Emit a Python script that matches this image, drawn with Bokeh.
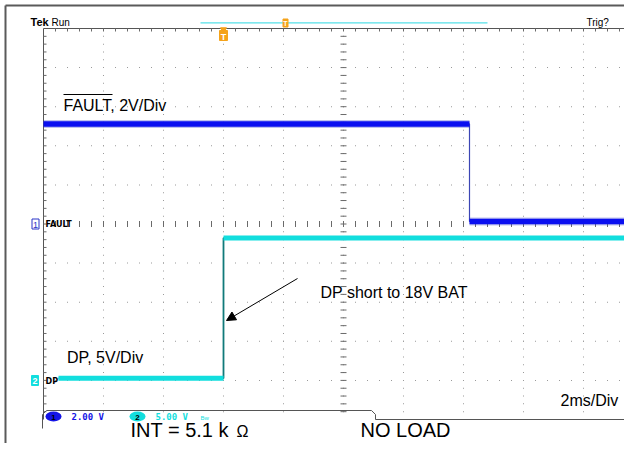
import numpy as np
from bokeh.plotting import figure
from bokeh.models import Range1d, Label, Arrow, NormalHead
from bokeh.embed import file_html
from bokeh.resources import INLINE

# ---------------- data ----------------
fault_time_ms = [-6.0, 8.2, 8.2, 14.0]      # channel 1 (FAULT)
fault_volts = [5.12, 5.12, 0.13, 0.13]
dp_time_ms = [-5.5, 0.0, 0.0, 14.0]          # channel 2 (DP)
dp_volts = [0.26, 0.26, 18.2, 18.2]
ch1_volts_per_div = 2.0
ch2_volts_per_div = 5.0
ms_per_div = 2.0
ch2_ground_div = -4.0                        # DP ground marker, divisions below centre
trigger_div_from_left = 3                    # trigger point (t = 0)

# ---------------- screen geometry (pixels) ----------------
X0, DIV_W = 43.0, 60.0
Y0, DIV_H = 28.0, 39.1
YC = Y0 + 5 * DIV_H
X_TRIG = X0 + trigger_div_from_left * DIV_W
PX_L, PX_R, PY_T, PY_B = 0.0, 624.0, 0.0, 443.0

def t_at(px):
    return (px - X_TRIG) / DIV_W * ms_per_div

def v1_at(py):
    return (YC - py) / DIV_H * ch1_volts_per_div

def v2_at(py):
    return ((YC - py) / DIV_H - ch2_ground_div) * ch2_volts_per_div

p = figure(width=624, height=443,
           x_range=Range1d(PX_L, PX_R), y_range=Range1d(PY_B, PY_T),
           output_backend="svg", toolbar_location=None,
           x_axis_location=None, y_axis_location=None,
           min_border=0, min_border_left=0, min_border_right=0,
           min_border_top=0, min_border_bottom=0,
           background_fill_color="white", border_fill_color="white",
           outline_line_color=None)
p.grid.visible = False
p.extra_x_ranges = {"ms": Range1d(t_at(PX_L), t_at(PX_R))}
p.extra_y_ranges = {"ch1": Range1d(v1_at(PY_B), v1_at(PY_T)),
                    "ch2": Range1d(v2_at(PY_B), v2_at(PY_T))}

# ---------------- page frame ----------------
p.line([5, PX_R], [5, 5], line_color="#5a5a5a", line_width=2)
p.line([5, 5], [5, PY_B], line_color="#5a5a5a", line_width=2)

# ---------------- graticule ----------------
minor_h = DIV_H / 5
minor_w = DIV_W / 5
gx, gy = [], []
for k in range(1, 10):
    x = X0 + k * DIV_W
    for j in range(1, 50):
        gx.append(x); gy.append(Y0 + j * minor_h)
for m in range(1, 10):
    y = Y0 + m * DIV_H
    for i in range(1, 50):
        gx.append(X0 + i * minor_w); gy.append(y)
p.rect(gx, gy, width=1, height=1, width_units="screen", height_units="screen",
       fill_color="#9a9a9a", line_color=None)

GR = "#555555"
p.line([X0, X0], [Y0, Y0 + 10 * DIV_H], line_color=GR, line_width=1)
p.line([X0, 640], [Y0, Y0], line_color=GR, line_width=1)
p.line([375, 640], [Y0 + 10 * DIV_H, Y0 + 10 * DIV_H], line_color=GR, line_width=1)

tk_x0, tk_x1, tk_y0, tk_y1 = [], [], [], []
for j in range(1, 50):
    y = Y0 + j * minor_h
    tk_x0 += [X0, X0 + 5 * DIV_W - 3]; tk_x1 += [X0 + 3, X0 + 5 * DIV_W + 3]
    tk_y0 += [y, y]; tk_y1 += [y, y]
for i in range(1, 50):
    x = X0 + i * minor_w
    tk_x0 += [x, x]; tk_x1 += [x, x]
    tk_y0 += [Y0, YC - 3]; tk_y1 += [Y0 + 3, YC + 3]
p.segment(tk_x0, tk_y0, tk_x1, tk_y1, line_color="#6a6a6a", line_width=1)

# ---------------- traces ----------------
p.line(fault_time_ms, fault_volts, x_range_name="ms", y_range_name="ch1",
       line_color="#3c46b4", line_width=1.2)
for a, b in ((0, 2), (2, 4)):
    p.line(fault_time_ms[a:b], fault_volts[a:b], x_range_name="ms", y_range_name="ch1",
           line_color="#2b34c8", line_width=8, line_alpha=0.3, line_cap="butt")
    p.line(fault_time_ms[a:b], fault_volts[a:b], x_range_name="ms", y_range_name="ch1",
           line_color="#0a0ff0", line_width=5.5, line_cap="butt")

p.line(dp_time_ms, dp_volts, x_range_name="ms", y_range_name="ch2",
       line_color="#117a7a", line_width=1.8)
for a, b in ((0, 2), (2, 4)):
    p.line(dp_time_ms[a:b], dp_volts[a:b], x_range_name="ms", y_range_name="ch2",
           line_color="#12dede", line_width=5, line_cap="butt")

# ---------------- scope UI texts / markers ----------------
def lab(x, y, text, size, color="black", style="normal", font="Liberation Sans",
        align="left"):
    # y is the wanted baseline; the renderer sets alphabetic text ~0.37 em lower
    px = float(size.replace("px", ""))
    p.add_layout(Label(x=x, y=y - 0.37 * px, text=text, text_font=font,
                       text_font_size=size, text_color=color,
                       text_font_style=style, text_align=align,
                       text_baseline="alphabetic"))

lab(30, 26, "Tek", "11px", style="bold")
lab(51, 26, "Run", "10px")
lab(586, 26, "Trig?", "10px")
p.line([200, 487], [22.3, 22.3], line_color="#55e0e8", line_width=1.3)

ORANGE = "#f5a31a"
p.rect([223], [35], width=8, height=10, fill_color=ORANGE, line_color=ORANGE)
p.triangle([223], [29], size=6, angle=np.pi, fill_color=ORANGE, line_color=ORANGE)
lab(223, 39.5, "T", "9px", color="white", style="bold", align="center")
p.rect([285], [22.5], width=5, height=8, fill_color=ORANGE, line_color=ORANGE)
lab(285, 26, "T", "7px", color="white", style="bold", align="center")

# channel markers
p.rect([35], [223.5], width=7, height=10, fill_color="white", line_color="#2b34c8")
lab(35, 227.5, "1", "9px", color="#2b34c8", align="center")
lab(45, 227, "FAULT", "8px", style="bold", font="DejaVu Sans")
p.rect([34.5], [380], width=7, height=10, fill_color="#12dede", line_color="#12dede")
lab(34.5, 384, "2", "9px", color="white", style="bold", align="center")
lab(45, 384, "DP", "8px", style="bold", font="DejaVu Sans")

# status bar
sb_x = [42, 42, 46, 371, 375, 375]
sb_y = [428, 414, 410, 410, 414, 419]
p.line(sb_x, sb_y, line_color="#555555", line_width=1)
p.ellipse([53], [416], width=16, height=10, fill_color="#1414e6", line_color=None)
lab(53, 419.5, "1", "8px", color="black", style="bold", align="center")
lab(71, 419.5, "2.00 V", "9px", color="#1414e6", style="bold", font="DejaVu Sans Mono")
p.ellipse([137], [416], width=16, height=10, fill_color="#12dede", line_color=None)
lab(137, 419.5, "2", "8px", color="black", style="bold", align="center")
lab(155, 419.5, "5.00 V", "9px", color="#12dede", style="bold", font="DejaVu Sans Mono")
lab(200, 419.5, "Bw", "6px", color="#12dede")

# ---------------- annotations ----------------
lab(63, 110.7, "FAULT, 2V/Div", "16px")
p.line([63, 112], [94, 94], line_color="black", line_width=1.2)
lab(66.5, 362.7, "DP, 5V/Div", "16px")
lab(320, 298.3, "DP short to 18V BAT", "16px")
lab(560, 406, "2ms/Div", "16px")
lab(130, 437, "INT = 5.1 k", "20px")
lab(236, 437, "\u03a9", "16px")
lab(360, 437, "NO LOAD", "20px")
p.add_layout(Arrow(x_start=297, y_start=278, x_end=226, y_end=320,
                   line_color="black", line_width=1,
                   end=NormalHead(size=9, fill_color="black", line_color="black")))

open("out.html", "w").write(file_html(p, INLINE))
